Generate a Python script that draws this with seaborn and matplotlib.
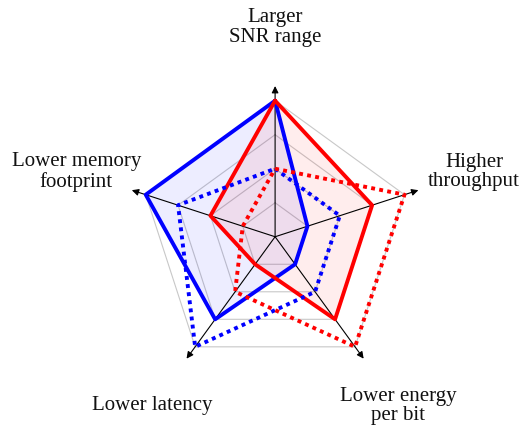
import numpy as np
import pandas as pd
import matplotlib
matplotlib.use("Agg")
import matplotlib.pyplot as plt
import seaborn as sns

# =========================================
# DATA
# =========================================
categories = ["Larger\nSNR range", "Higher\nthroughput", "Lower energy\nper bit",
              "Lower latency", "Lower memory\nfootprint"]
blue_solid = [4, 1, 1, 3, 4]
red_solid = [4, 3, 3, 1, 2]
blue_dotted = [2, 2, 2, 4, 3]
red_dotted = [2, 4, 4, 2, 1]
levels = [1, 2, 3, 4]

# =========================================
# STYLE
# =========================================
sns.set_theme(style="white")
plt.rcParams['font.family'] = ['Liberation Serif', 'DejaVu Serif']

angles = np.deg2rad(90 - 72 * np.arange(len(categories)))


def to_xy(values):
    v = np.asarray(values, dtype=float)
    x = v * np.cos(angles)
    y = v * np.sin(angles)
    return np.append(x, x[0]), np.append(y, y[0])


fig = plt.figure(figsize=(5.23, 4.32), dpi=100)
ax = fig.add_axes([0, 0, 1, 1])
ax.set_xlim(-8.09, 7.29)
ax.set_ylim(-5.74, 6.96)
ax.axis("off")

# grid rings
for lv in levels:
    gx, gy = to_xy([lv] * len(categories))
    ax.plot(gx, gy, color="#c8c8c8", lw=0.8, zorder=1)

# fills for solid series
bx, by = to_xy(blue_solid)
rx, ry = to_xy(red_solid)
ax.fill(bx, by, color="blue", alpha=0.07, lw=0, zorder=2)
ax.fill(rx, ry, color="red", alpha=0.07, lw=0, zorder=2)

# spokes with arrows
for a in angles:
    ax.annotate("", xy=(4.43 * np.cos(a), 4.43 * np.sin(a)), xytext=(0, 0),
                arrowprops=dict(arrowstyle="-|>", color="black", lw=0.8,
                                mutation_scale=10, shrinkA=0, shrinkB=0),
                zorder=3)

# series lines
series = [
    (blue_solid, "blue", "-"),
    (red_solid, "red", "-"),
    (blue_dotted, "blue", (0, (1, 1.1))),
    (red_dotted, "red", (0, (1, 1.1))),
]
for vals, col, ls in series:
    sx, sy = to_xy(vals)
    df = pd.DataFrame({"x": sx, "y": sy})
    sns.lineplot(data=df, x="x", y="y", sort=False, estimator=None, ax=ax,
                 color=col, lw=2.8, linestyle=ls, zorder=4)
ax.set_xlabel("")
ax.set_ylabel("")

# category labels
for a, lab in zip(angles, categories):
    r = 6.15
    ax.text(r * np.cos(a), r * np.sin(a), lab, ha="center", va="center",
            fontsize=15, linespacing=1.05, color="#111111")

fig.savefig("out.png", dpi=100)
